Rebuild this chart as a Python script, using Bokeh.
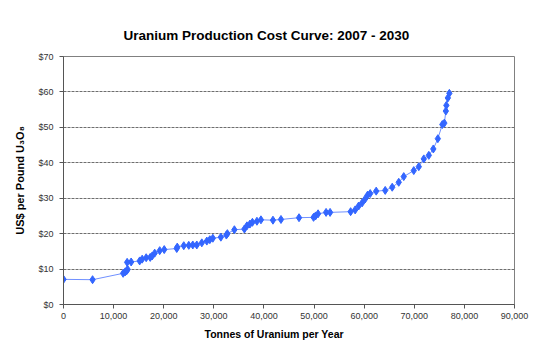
from bokeh.plotting import figure
from bokeh.models import FixedTicker, NumeralTickFormatter, PrintfTickFormatter, Title, Range1d
from bokeh.embed import file_html
from bokeh.resources import INLINE

# Cumulative production (tonnes U per year) and cost (US$/lb U3O8)
tonnes = [0, 5800, 11900, 12300, 12600, 12800, 12700, 13500, 15200, 15700,
          16500, 17300, 17700, 18200, 19200, 20100, 22600, 22700, 24000, 25000,
          25800, 26600, 27600, 28600, 29200, 29800, 31400, 32500, 32700, 34100,
          36100, 36600, 37200, 37700, 38600, 39400, 41800, 43400, 47000, 49900,
          50300, 50800, 52400, 53200, 57300, 58200, 58900, 59600, 60200, 60700,
          61200, 62400, 64200, 65600, 66900, 67900, 69900, 70900, 71900, 72900,
          73800, 74700, 75600, 76000, 76300, 76400, 76700, 77000]
cost = [7.1, 7.0, 8.8, 9.2, 9.5, 9.9, 11.9, 12.0, 12.3, 12.8,
        13.2, 13.3, 13.7, 14.5, 15.2, 15.5, 15.8, 16.2, 16.6, 16.7,
        16.8, 16.8, 17.4, 17.9, 18.3, 18.7, 19.0, 19.6, 20.0, 21.1,
        21.3, 22.2, 22.7, 23.2, 23.5, 23.9, 23.8, 24.0, 24.5, 24.6,
        25.0, 25.6, 26.0, 26.0, 26.2, 26.7, 27.8, 28.7, 29.8, 30.9,
        31.3, 32.0, 32.2, 33.1, 34.5, 36.1, 37.8, 38.9, 41.1, 42.1,
        43.9, 46.8, 50.8, 51.2, 54.6, 56.2, 58.3, 59.6]

x_ticks = [0, 10000, 20000, 30000, 40000, 50000, 60000, 70000, 80000, 90000]
y_ticks = [0, 10, 20, 30, 40, 50, 60, 70]

title_text = "Uranium Production Cost Curve: 2007 - 2030"
x_label = "Tonnes of Uranium per Year"
y_label = "US$ per Pound U\u2083O\u2088"

FONT = "Liberation Sans"

p = figure(width=537, height=351, output_backend="svg", toolbar_location=None,
           x_range=Range1d(0, 90000), y_range=Range1d(0, 70),
           min_border_left=63, min_border_right=23, min_border_top=56,
           min_border_bottom=47)
p.background_fill_color = "white"
p.border_fill_color = "white"
p.outline_line_color = "#808080"
p.outline_line_width = 1

# grid
p.xgrid.visible = False
p.ygrid.ticker = FixedTicker(ticks=y_ticks)
p.ygrid.grid_line_color = "#6e6e6e"
p.ygrid.grid_line_dash = "3 1"
p.ygrid.grid_line_width = 1

# axes
for ax in (p.xaxis[0], p.yaxis[0]):
    ax.axis_line_color = "#555555"
    ax.major_tick_line_color = "#555555"
    ax.major_tick_out = 4
    ax.major_tick_in = 0
    ax.minor_tick_line_color = None
    ax.major_label_text_font = FONT
    ax.major_label_text_font_size = "9px"
    ax.major_label_text_color = "#333333"

p.xaxis[0].ticker = FixedTicker(ticks=x_ticks)
p.xaxis[0].formatter = NumeralTickFormatter(format="0,0")
p.xaxis[0].major_label_standoff = 4

p.yaxis[0].ticker = FixedTicker(ticks=y_ticks)
p.yaxis[0].formatter = PrintfTickFormatter(format="$%d")
p.yaxis[0].major_label_standoff = 6
p.yaxis[0].axis_label = y_label
p.yaxis[0].axis_label_text_font = FONT
p.yaxis[0].axis_label_text_font_style = "bold"
p.yaxis[0].axis_label_text_font_size = "11px"
p.yaxis[0].axis_label_text_color = "black"
p.yaxis[0].axis_label_standoff = 9

# data
p.line(tonnes, cost, line_color="#7090ff", line_width=1)
p.scatter(tonnes, cost, marker="diamond", size=8, fill_color="#3366ff",
          line_color="#3366ff")

# chart title (centred on chart area, i.e. left of the frame centre)
p.add_layout(Title(text=title_text, text_font=FONT, text_font_style="bold",
                   text_font_size="13.5px", align="left", offset=60,
                   standoff=28, text_color="black"), "above")
# x-axis title as a bottom title
p.add_layout(Title(text=x_label, text_font=FONT, text_font_style="bold",
                   text_font_size="10.5px", align="left", offset=141,
                   standoff=9, text_color="black"), "below")

open("out.html", "w").write(file_html(p, INLINE))
